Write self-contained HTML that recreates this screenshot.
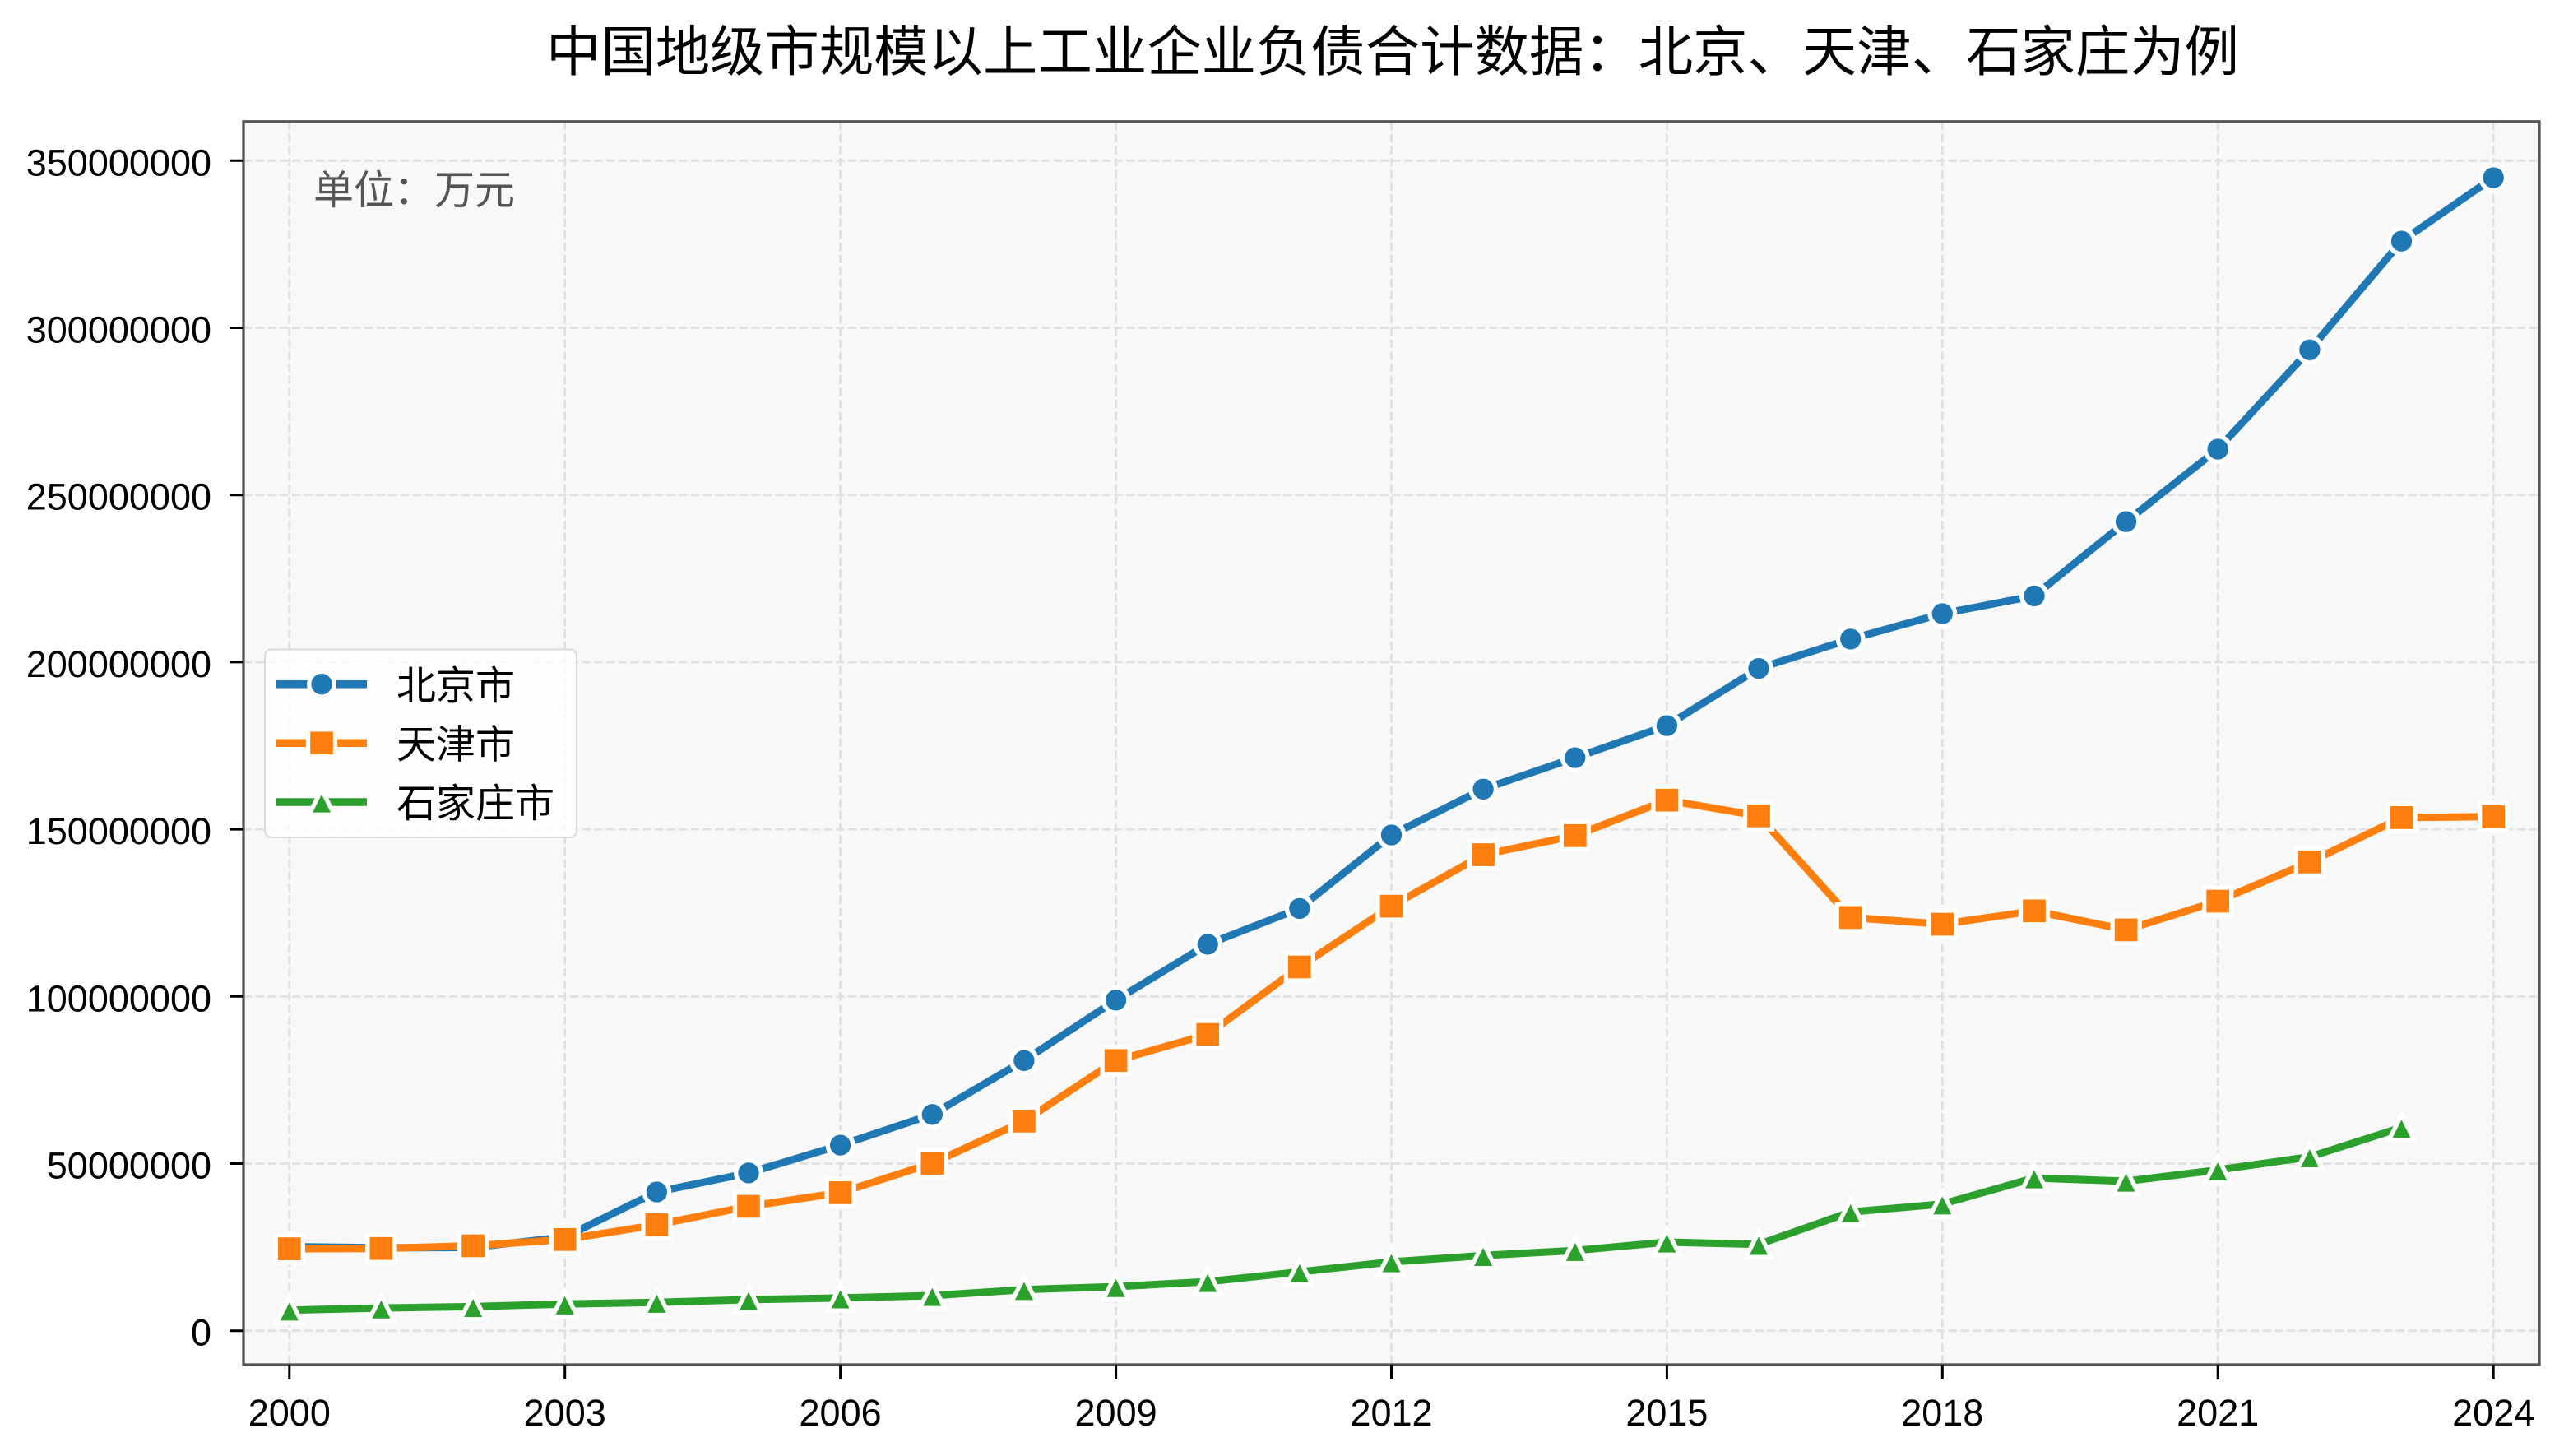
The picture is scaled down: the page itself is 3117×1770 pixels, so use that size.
<!DOCTYPE html>
<html><head><meta charset="utf-8"><style>
html,body{margin:0;padding:0;background:#fff;}
svg{display:block;}
</style></head><body>
<svg width="3117" height="1770" viewBox="0 0 3117 1770" xmlns="http://www.w3.org/2000/svg">
<defs>
<clipPath id="ax"><rect x="296" y="148" width="2791" height="1511"/></clipPath>
<g id="mc"><circle cx="0" cy="0" r="15.3" fill="#1f77b4" stroke="#fff" stroke-width="5.3"/></g>
<g id="ms"><rect x="-16.5" y="-16.5" width="33" height="33" fill="#ff7f0e" stroke="#fff" stroke-width="5.3"/></g>
<g id="mt"><polygon points="0,-15.3 -15.3,15.3 15.3,15.3" fill="#2ca02c" stroke="#fff" stroke-width="5.3" stroke-linejoin="miter"/></g>
</defs>
<rect x="0" y="0" width="3117" height="1770" fill="#fff"/>
<text x="1693" y="86" font-family="Liberation Sans, Noto Sans CJK SC, sans-serif" font-size="66.4" text-anchor="middle" fill="#000">中国地级市规模以上工业企业负债合计数据：北京、天津、石家庄为例</text>
<rect x="296" y="148" width="2791" height="1511" fill="#f8f8f8"/>
<g clip-path="url(#ax)" stroke="#e0e0e0" stroke-width="2.8" stroke-dasharray="10.3 4.4" fill="none">
<line x1="296" x2="3087" y1="1617.7" y2="1617.7"/>
<line x1="296" x2="3087" y1="1414.5" y2="1414.5"/>
<line x1="296" x2="3087" y1="1211.3" y2="1211.3"/>
<line x1="296" x2="3087" y1="1008.1" y2="1008.1"/>
<line x1="296" x2="3087" y1="804.9" y2="804.9"/>
<line x1="296" x2="3087" y1="601.7" y2="601.7"/>
<line x1="296" x2="3087" y1="398.5" y2="398.5"/>
<line x1="296" x2="3087" y1="195.3" y2="195.3"/>
<line y1="148" y2="1659" x1="351.8" x2="351.8"/>
<line y1="148" y2="1659" x1="686.7" x2="686.7"/>
<line y1="148" y2="1659" x1="1021.6" x2="1021.6"/>
<line y1="148" y2="1659" x1="1356.6" x2="1356.6"/>
<line y1="148" y2="1659" x1="1691.5" x2="1691.5"/>
<line y1="148" y2="1659" x1="2026.4" x2="2026.4"/>
<line y1="148" y2="1659" x1="2361.3" x2="2361.3"/>
<line y1="148" y2="1659" x1="2696.2" x2="2696.2"/>
<line y1="148" y2="1659" x1="3031.2" x2="3031.2"/>
</g>
<g clip-path="url(#ax)">
<polyline fill="none" stroke="#1f77b4" stroke-width="9" stroke-linejoin="round" stroke-linecap="butt" points="351.8,1515.5 463.4,1516.9 575.1,1516.4 686.7,1503.9 798.4,1449.0 910.0,1425.9 1021.6,1392.1 1133.3,1354.8 1244.9,1289.3 1356.6,1215.8 1468.2,1147.9 1579.8,1104.4 1691.5,1015.0 1803.1,959.3 1914.8,921.1 2026.4,882.1 2138.0,812.6 2249.7,776.9 2361.3,746.0 2473.0,724.4 2584.6,634.2 2696.2,546.0 2807.9,425.3 2919.5,293.2 3031.2,216.0"/>
<use href="#mc" x="351.8" y="1515.5"/><use href="#mc" x="463.4" y="1516.9"/><use href="#mc" x="575.1" y="1516.4"/><use href="#mc" x="686.7" y="1503.9"/><use href="#mc" x="798.4" y="1449.0"/><use href="#mc" x="910.0" y="1425.9"/><use href="#mc" x="1021.6" y="1392.1"/><use href="#mc" x="1133.3" y="1354.8"/><use href="#mc" x="1244.9" y="1289.3"/><use href="#mc" x="1356.6" y="1215.8"/><use href="#mc" x="1468.2" y="1147.9"/><use href="#mc" x="1579.8" y="1104.4"/><use href="#mc" x="1691.5" y="1015.0"/><use href="#mc" x="1803.1" y="959.3"/><use href="#mc" x="1914.8" y="921.1"/><use href="#mc" x="2026.4" y="882.1"/><use href="#mc" x="2138.0" y="812.6"/><use href="#mc" x="2249.7" y="776.9"/><use href="#mc" x="2361.3" y="746.0"/><use href="#mc" x="2473.0" y="724.4"/><use href="#mc" x="2584.6" y="634.2"/><use href="#mc" x="2696.2" y="546.0"/><use href="#mc" x="2807.9" y="425.3"/><use href="#mc" x="2919.5" y="293.2"/><use href="#mc" x="3031.2" y="216.0"/>
<polyline fill="none" stroke="#ff7f0e" stroke-width="9" stroke-linejoin="round" points="351.8,1518.1 463.4,1517.7 575.1,1514.5 686.7,1506.8 798.4,1488.9 910.0,1466.5 1021.6,1449.9 1133.3,1414.1 1244.9,1362.9 1356.6,1289.3 1468.2,1257.6 1579.8,1175.5 1691.5,1101.6 1803.1,1039.0 1914.8,1015.8 2026.4,972.7 2138.0,991.8 2249.7,1115.4 2361.3,1123.5 2473.0,1107.3 2584.6,1130.4 2696.2,1095.5 2807.9,1047.9 2919.5,993.9 3031.2,992.7"/>
<use href="#ms" x="351.8" y="1518.1"/><use href="#ms" x="463.4" y="1517.7"/><use href="#ms" x="575.1" y="1514.5"/><use href="#ms" x="686.7" y="1506.8"/><use href="#ms" x="798.4" y="1488.9"/><use href="#ms" x="910.0" y="1466.5"/><use href="#ms" x="1021.6" y="1449.9"/><use href="#ms" x="1133.3" y="1414.1"/><use href="#ms" x="1244.9" y="1362.9"/><use href="#ms" x="1356.6" y="1289.3"/><use href="#ms" x="1468.2" y="1257.6"/><use href="#ms" x="1579.8" y="1175.5"/><use href="#ms" x="1691.5" y="1101.6"/><use href="#ms" x="1803.1" y="1039.0"/><use href="#ms" x="1914.8" y="1015.8"/><use href="#ms" x="2026.4" y="972.7"/><use href="#ms" x="2138.0" y="991.8"/><use href="#ms" x="2249.7" y="1115.4"/><use href="#ms" x="2361.3" y="1123.5"/><use href="#ms" x="2473.0" y="1107.3"/><use href="#ms" x="2584.6" y="1130.4"/><use href="#ms" x="2696.2" y="1095.5"/><use href="#ms" x="2807.9" y="1047.9"/><use href="#ms" x="2919.5" y="993.9"/><use href="#ms" x="3031.2" y="992.7"/>
<polyline fill="none" stroke="#2ca02c" stroke-width="9" stroke-linejoin="round" points="351.8,1592.7 463.4,1590.1 575.1,1588.4 686.7,1585.2 798.4,1583.2 910.0,1579.9 1021.6,1577.9 1133.3,1575.0 1244.9,1567.7 1356.6,1564.1 1468.2,1558.0 1579.8,1546.2 1691.5,1534.0 1803.1,1526.3 1914.8,1520.2 2026.4,1510.0 2138.0,1512.8 2249.7,1473.4 2361.3,1463.7 2473.0,1432.0 2584.6,1436.0 2696.2,1422.2 2807.9,1406.4 2919.5,1370.6"/>
<use href="#mt" x="351.8" y="1592.7"/><use href="#mt" x="463.4" y="1590.1"/><use href="#mt" x="575.1" y="1588.4"/><use href="#mt" x="686.7" y="1585.2"/><use href="#mt" x="798.4" y="1583.2"/><use href="#mt" x="910.0" y="1579.9"/><use href="#mt" x="1021.6" y="1577.9"/><use href="#mt" x="1133.3" y="1575.0"/><use href="#mt" x="1244.9" y="1567.7"/><use href="#mt" x="1356.6" y="1564.1"/><use href="#mt" x="1468.2" y="1558.0"/><use href="#mt" x="1579.8" y="1546.2"/><use href="#mt" x="1691.5" y="1534.0"/><use href="#mt" x="1803.1" y="1526.3"/><use href="#mt" x="1914.8" y="1520.2"/><use href="#mt" x="2026.4" y="1510.0"/><use href="#mt" x="2138.0" y="1512.8"/><use href="#mt" x="2249.7" y="1473.4"/><use href="#mt" x="2361.3" y="1463.7"/><use href="#mt" x="2473.0" y="1432.0"/><use href="#mt" x="2584.6" y="1436.0"/><use href="#mt" x="2696.2" y="1422.2"/><use href="#mt" x="2807.9" y="1406.4"/><use href="#mt" x="2919.5" y="1370.6"/>
</g>
<rect x="296" y="147.8" width="2791" height="1511.2" fill="none" stroke="#555" stroke-width="3.3"/>
<g stroke="#000" stroke-width="3">
<line x1="279" x2="296" y1="1617.7" y2="1617.7"/>
<line x1="279" x2="296" y1="1414.5" y2="1414.5"/>
<line x1="279" x2="296" y1="1211.3" y2="1211.3"/>
<line x1="279" x2="296" y1="1008.1" y2="1008.1"/>
<line x1="279" x2="296" y1="804.9" y2="804.9"/>
<line x1="279" x2="296" y1="601.7" y2="601.7"/>
<line x1="279" x2="296" y1="398.5" y2="398.5"/>
<line x1="279" x2="296" y1="195.3" y2="195.3"/>
<line y1="1659" y2="1677" x1="351.8" x2="351.8"/>
<line y1="1659" y2="1677" x1="686.7" x2="686.7"/>
<line y1="1659" y2="1677" x1="1021.6" x2="1021.6"/>
<line y1="1659" y2="1677" x1="1356.6" x2="1356.6"/>
<line y1="1659" y2="1677" x1="1691.5" x2="1691.5"/>
<line y1="1659" y2="1677" x1="2026.4" x2="2026.4"/>
<line y1="1659" y2="1677" x1="2361.3" x2="2361.3"/>
<line y1="1659" y2="1677" x1="2696.2" x2="2696.2"/>
<line y1="1659" y2="1677" x1="3031.2" x2="3031.2"/>
</g>
<g font-family="Liberation Sans, sans-serif" font-size="45" fill="#000" text-anchor="end">
<text x="257" y="1635.7">0</text>
<text x="257" y="1432.5">50000000</text>
<text x="257" y="1229.3">100000000</text>
<text x="257" y="1026.1">150000000</text>
<text x="257" y="822.9">200000000</text>
<text x="257" y="619.7">250000000</text>
<text x="257" y="416.5">300000000</text>
<text x="257" y="213.3">350000000</text>
</g>
<g font-family="Liberation Sans, sans-serif" font-size="45" fill="#000" text-anchor="middle">
<text x="351.8" y="1733">2000</text>
<text x="686.7" y="1733">2003</text>
<text x="1021.6" y="1733">2006</text>
<text x="1356.6" y="1733">2009</text>
<text x="1691.5" y="1733">2012</text>
<text x="2026.4" y="1733">2015</text>
<text x="2361.3" y="1733">2018</text>
<text x="2696.2" y="1733">2021</text>
<text x="3031.2" y="1733">2024</text>
</g>
<text x="381" y="248" font-family="Liberation Sans, Noto Sans CJK SC, sans-serif" font-size="49" fill="#555">单位：万元</text>
<rect x="322" y="789.5" width="379" height="228.5" rx="8" ry="8" fill="#fff" fill-opacity="0.8" stroke="#d9d9d9" stroke-width="2"/>
<line x1="336" x2="446" y1="831.7" y2="831.7" stroke="#1f77b4" stroke-width="9.5"/>
<use href="#mc" x="391" y="831.7"/>
<line x1="336" x2="446" y1="903.3" y2="903.3" stroke="#ff7f0e" stroke-width="9.5"/>
<use href="#ms" x="391" y="903.3"/>
<line x1="336" x2="446" y1="975" y2="975" stroke="#2ca02c" stroke-width="9.5"/>
<use href="#mt" x="391" y="975"/>
<g font-family="Liberation Sans, Noto Sans CJK SC, sans-serif" font-size="48" fill="#000">
<text x="482" y="850">北京市</text>
<text x="482" y="921.5">天津市</text>
<text x="482" y="993">石家庄市</text>
</g>
</svg>
</body></html>
